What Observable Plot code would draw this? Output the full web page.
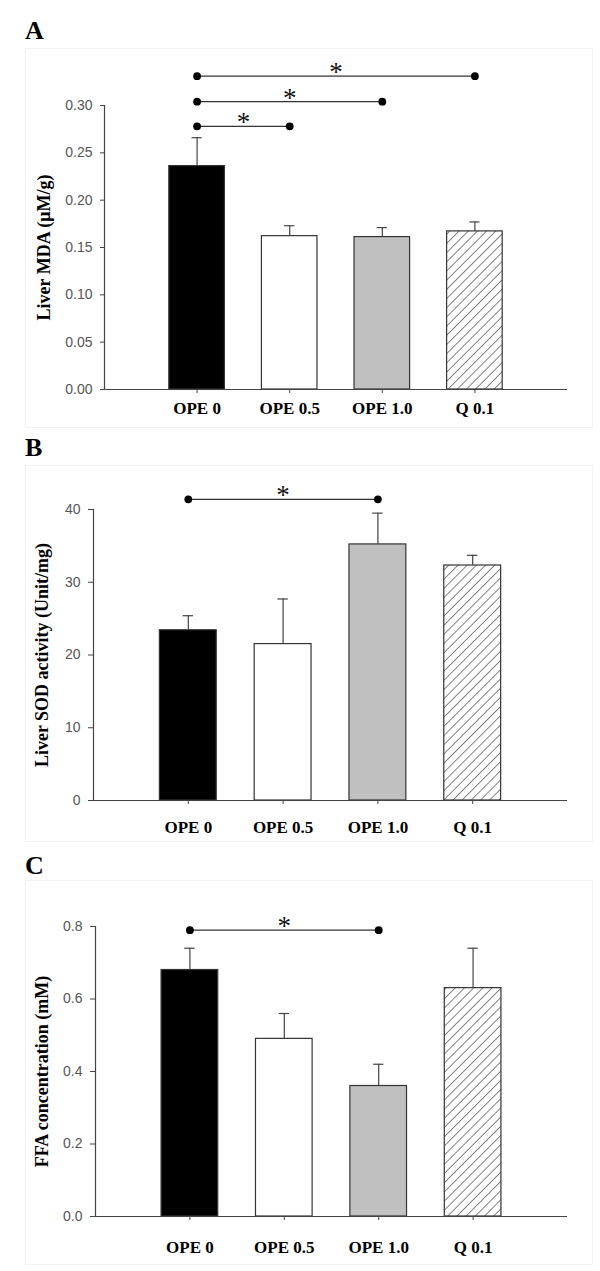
<!DOCTYPE html>
<html><head><meta charset="utf-8">
<script src="https://cdn.jsdelivr.net/npm/d3@7"></script>
<script src="https://cdn.jsdelivr.net/npm/@observablehq/plot@0.6"></script>
<style>
html,body{margin:0;padding:0;background:#fff;}
#root{position:relative;width:600px;height:1271px;overflow:hidden;background:#fff;}
.panel{position:absolute;left:0;}
.frame{position:absolute;border:1px solid #f3f3f3;box-sizing:border-box;}
.letter{position:absolute;font-family:"Liberation Serif","Times New Roman",serif;font-weight:bold;font-size:26px;line-height:1;color:#000;}
</style></head><body><div id="root"></div>
<script>
// ---- data ----
const groups = ["OPE 0", "OPE 0.5", "OPE 1.0", "Q 0.1"];

const mdaMean = [0.236, 0.162, 0.161, 0.167];
const mdaErr  = [0.030, 0.011, 0.010, 0.010];
const mdaTicks = [0, 0.05, 0.10, 0.15, 0.20, 0.25, 0.30];
// significance brackets: [from group index, to group index, height]
const mdaSig = [[0, 1, 0.278], [0, 2, 0.304], [0, 3, 0.331]];

const sodMean = [23.4, 21.5, 35.2, 32.3];
const sodErr  = [2.0, 6.2, 4.3, 1.4];
const sodTicks = [0, 10, 20, 30, 40];
const sodSig = [[0, 2, 41.4]];

const ffaMean = [0.68, 0.49, 0.36, 0.63];
const ffaErr  = [0.06, 0.07, 0.06, 0.11];
const ffaTicks = [0, 0.2, 0.4, 0.6, 0.8];
const ffaSig = [[0, 2, 0.79]];

// ---- styles ----
const fills = ["#000000", "#ffffff", "#c0c0c0", "HATCH"];
const serif = "'Liberation Serif','Times New Roman',serif";
const sans = "'Liberation Sans',Arial,sans-serif";
const root = document.getElementById("root");

function addBox(cls, css, text) {
  const d = document.createElement("div");
  d.className = cls;
  Object.assign(d.style, css);
  if (text) d.textContent = text;
  root.appendChild(d);
}

function panel(cfg) {
  const hatchId = "hatch" + cfg.letter;
  const data = cfg.means.map((m, k) => ({
    i: k + 1, mean: m, err: cfg.errs[k],
    fill: fills[k] === "HATCH" ? `url(#${hatchId})` : fills[k]
  }));
  const sig = cfg.sigs.map(([a, b, h]) => ({a: a + 1, b: b + 1, h}));
  const ends = sig.flatMap(s => [{x: s.a, h: s.h}, {x: s.b, h: s.h}]);
  const half = 0.3;

  const svg = Plot.plot({
    width: 600,
    height: cfg.height,
    marginLeft: cfg.mLeft,
    marginRight: 33,
    marginTop: cfg.mTop,
    marginBottom: cfg.mBottom,
    style: {background: "transparent", fontFamily: sans, overflow: "visible"},
    x: {domain: [0, 5]},
    y: {domain: cfg.yDomain},
    color: {type: "identity"},
    marks: [
      Plot.rectY(data, {x1: d => d.i - half, x2: d => d.i + half, y1: 0, y2: "mean",
        fill: "fill", stroke: "#333", strokeWidth: 1.2}),
      Plot.ruleX(data, {x: "i", y1: "mean", y2: d => d.mean + d.err, stroke: "#444", strokeWidth: 1.2}),
      Plot.ruleY(data, {y: d => d.mean + d.err, x1: d => d.i - 0.055, x2: d => d.i + 0.055, stroke: "#444", strokeWidth: 1.2}),
      Plot.ruleY([0], {stroke: "#444", strokeWidth: 1.2}),
      Plot.ruleX([0], {stroke: "#444", strokeWidth: 1.2}),
      Plot.axisY({ticks: cfg.yTicks, tickFormat: cfg.yFmt, tickSize: cfg.tickSizeY, tickPadding: 8,
        fontSize: 14, fontFamily: sans, fill: "#555", stroke: "#444", label: null}),
      Plot.axisX({ticks: [1, 2, 3, 4], tickFormat: i => groups[i - 1], tickSize: 4,
        tickPadding: cfg.xPad, fontSize: 17, fontFamily: serif, fontWeight: "bold",
        fill: "#000", stroke: "#444", label: null}),
      Plot.text([cfg.yLabel], {frameAnchor: "left", dx: cfg.labelDx, rotate: -90,
        textAnchor: "middle", lineAnchor: "middle", fontSize: 18, fontFamily: serif,
        fontWeight: "bold", fill: "#000"}),
      Plot.link(sig, {x1: "a", x2: "b", y1: "h", y2: "h", stroke: "#333", strokeWidth: 1.3}),
      Plot.dot(ends, {x: "x", y: "h", r: 3.9, fill: "#000"}),
      Plot.text(sig, {x: d => (d.a + d.b) / 2, y: "h", text: () => "*", lineAnchor: "bottom",
        dy: 5, fontSize: 27, fontFamily: serif, fill: "#111"})
    ]
  });

  const defs = d3.select(svg).insert("defs", ":first-child");
  const p = defs.append("pattern").attr("id", hatchId)
    .attr("patternUnits", "userSpaceOnUse").attr("width", 6.5).attr("height", 6.5)
    .attr("patternTransform", "rotate(45)");
  p.append("rect").attr("width", 6.5).attr("height", 6.5).attr("fill", "#fff");
  p.append("line").attr("x1", 0).attr("y1", 0).attr("x2", 0).attr("y2", 6.5)
    .attr("stroke", "#333").attr("stroke-width", 1.2);

  addBox("frame", cfg.frame);
  const wrap = document.createElement("div");
  wrap.className = "panel";
  wrap.style.top = cfg.top + "px";
  wrap.appendChild(svg);
  root.appendChild(wrap);
  addBox("letter", cfg.letterPos, cfg.letter);
}

panel({letter: "A", top: 0, height: 425, mLeft: 104, mTop: 105, mBottom: 36,
  yDomain: [0, 0.30], yTicks: mdaTicks, yFmt: d3.format(".2f"), tickSizeY: 4,
  yLabel: "Liver MDA (μM/g)", labelDx: -60, xPad: 8,
  means: mdaMean, errs: mdaErr, sigs: mdaSig,
  frame: {left: "25px", top: "48px", width: "568px", height: "380px"},
  letterPos: {left: "25px", top: "18px"}});

panel({letter: "B", top: 425, height: 420, mLeft: 93, mTop: 84, mBottom: 45,
  yDomain: [0, 40], yTicks: sodTicks, yFmt: d3.format("d"), tickSizeY: 5,
  yLabel: "Liver SOD activity (Unit/mg)", labelDx: -51, xPad: 16,
  means: sodMean, errs: sodErr, sigs: sodSig,
  frame: {left: "25px", top: "465px", width: "568px", height: "377px"},
  letterPos: {left: "25px", top: "435px"}});

panel({letter: "C", top: 845, height: 426, mLeft: 95, mTop: 81, mBottom: 55,
  yDomain: [0, 0.8], yTicks: ffaTicks, yFmt: d3.format(".1f"), tickSizeY: 5,
  yLabel: "FFA concentration (mM)", labelDx: -53, xPad: 20,
  means: ffaMean, errs: ffaErr, sigs: ffaSig,
  frame: {left: "25px", top: "880px", width: "568px", height: "385px"},
  letterPos: {left: "25px", top: "853px"}});
</script>
</body></html>
